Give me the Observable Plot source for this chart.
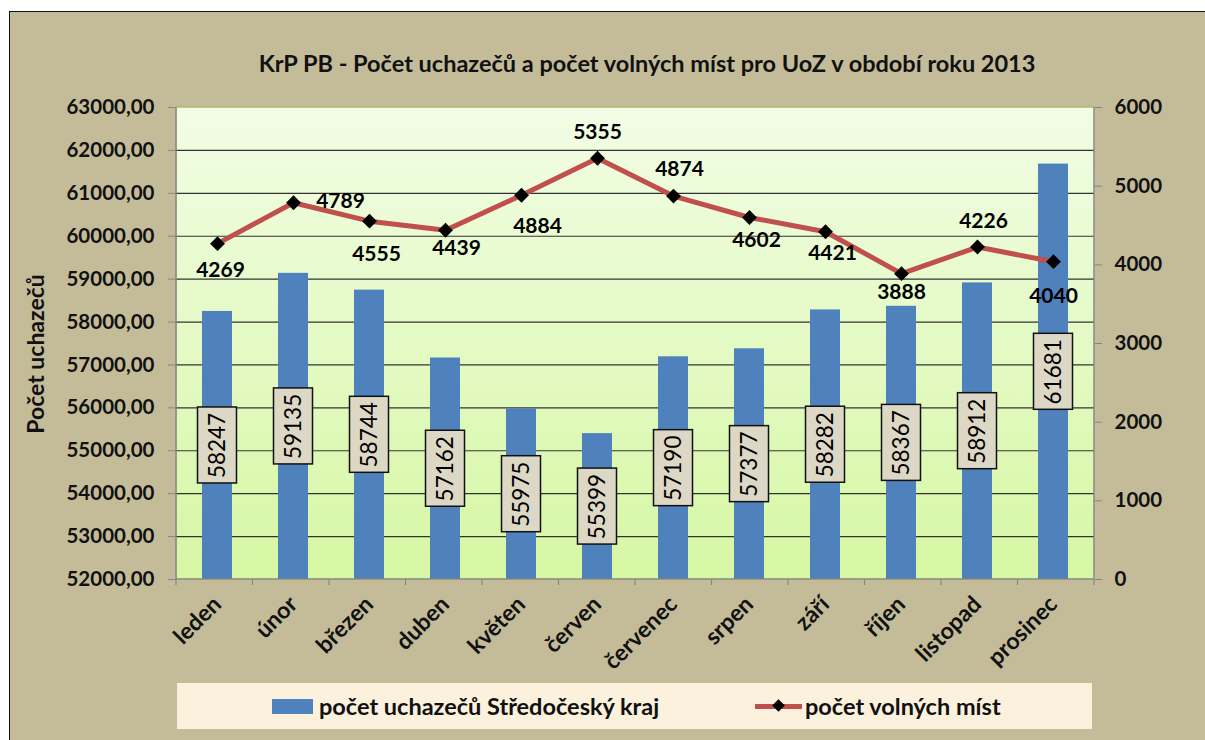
<!DOCTYPE html>
<html><head><meta charset="utf-8">
<script src="https://cdn.jsdelivr.net/npm/d3@7"></script>
<script src="https://cdn.jsdelivr.net/npm/@observablehq/plot@0.6"></script>
<style>
html,body{margin:0;padding:0;background:#fff;}
body{width:1205px;height:740px;overflow:hidden;position:relative;font-family:Lato,"Open Sans",sans-serif;}
#frame{position:absolute;left:9px;top:11px;width:1205px;height:740px;background:#c4bc99;border-left:1px solid #111;border-top:1px solid #111;}
#title{position:absolute;left:637px;top:51px;transform:translate(-50%,-50%);white-space:nowrap;font:bold 23.5px Lato,sans-serif;color:#111;}
#ylab{position:absolute;left:25px;top:342px;transform:translate(-50%,-50%) rotate(-90deg);white-space:nowrap;font:bold 23px Lato,sans-serif;color:#111;}
#chart{position:absolute;left:0;top:80px;}
#legend{position:absolute;left:167px;top:671px;width:915px;height:46px;background:#fcf1dd;}
#legend .sw1{position:absolute;left:95px;top:16px;width:41px;height:15px;background:#4f81bd;}
#legend .t{position:absolute;top:23px;transform:translateY(-50%);font:bold 23.5px Lato,sans-serif;color:#111;white-space:nowrap;}
#legend .sw2{position:absolute;left:578px;top:20.5px;width:47px;height:5px;background:#c0504d;}
#legend .dia{position:absolute;left:597px;top:17.5px;width:9px;height:9px;background:#000;transform:rotate(45deg);}
</style></head>
<body>
<div id="frame">
  <div id="title">KrP PB - Počet uchazečů a počet volných míst pro UoZ v období roku 2013</div>
  <div id="ylab">Počet uchazečů</div>
  <div id="chart"></div>
  <div id="legend">
    <div class="sw1"></div><div class="t" style="left:142px">počet uchazečů Středočeský kraj</div>
    <div class="sw2"></div><div class="dia"></div><div class="t" style="left:628px">počet volných míst</div>
  </div>
</div>
<script>
const months = ["leden","únor","březen","duben","květen","červen","červenec","srpen","září","říjen","listopad","prosinec"];
const applicants = [58247,59135,58744,57162,55975,55399,57190,57377,58282,58367,58912,61681];
const vacancies = [4269,4789,4555,4439,4884,5355,4874,4602,4421,3888,4226,4040];
const leftTicks = [52000,53000,54000,55000,56000,57000,58000,59000,60000,61000,62000,63000];
const rightTicks = [0,1000,2000,3000,4000,5000,6000];
// label placement (pixel offsets of vacancy labels from their points)
const vacLabelDx = [3,47,7,11,16,0,6,7,7,0,6,0];
const vacLabelDy = [27,-1,33,18,31,-26,-27,23,22,19,-26,35];

const Y0 = leftTicks[0], Y1 = leftTicks[leftTicks.length-1], R1 = rightTicks[rightTicks.length-1];
const toLeft = v => Y0 + v * (Y1 - Y0) / R1;
const rows = months.map((m,i) => ({month:m, applicants:applicants[i], vacancies:vacancies[i],
  vy: toLeft(vacancies[i]), mid:(applicants[i]+Y0)/2, dx:vacLabelDx[i], dy:vacLabelDy[i]}));

const defs = () => {
  const d = d3.create("svg:defs");
  const lg = d.append("linearGradient").attr("id","plotbg").attr("x1",0).attr("y1",0).attr("x2",0).attr("y2",1);
  lg.append("stop").attr("offset","0%").attr("stop-color","#f2fde6");
  lg.append("stop").attr("offset","100%").attr("stop-color","#d6f7a3");
  return d.node();
};

const axesLines = (index, scales, values, dims) => {
  const {width, height, marginLeft:ml, marginRight:mr, marginTop:mt, marginBottom:mb} = dims;
  const x0 = ml, x1 = width - mr, y0 = mt, y1 = height - mb;
  const g = d3.create("svg:g");
  g.append("line").attr("x1",x0).attr("x2",x1).attr("y1",y0).attr("y2",y0).attr("stroke","#9bbb59").attr("stroke-width",1.2);
  g.append("line").attr("x1",x0).attr("x2",x0).attr("y1",y0).attr("y2",y1).attr("stroke","#868686").attr("stroke-width",1.5);
  g.append("line").attr("x1",x1).attr("x2",x1).attr("y1",y0).attr("y2",y1).attr("stroke","#868686").attr("stroke-width",1.5);
  g.append("line").attr("x1",x0).attr("x2",x1).attr("y1",y1).attr("y2",y1).attr("stroke","#868686").attr("stroke-width",1.5);
  const n = months.length;
  for (let i = 0; i <= n; i++) {
    const x = x0 + i * (x1 - x0) / n;
    g.append("line").attr("x1",x).attr("x2",x).attr("y1",y1).attr("y2",y1+6).attr("stroke","#868686").attr("stroke-width",1.2);
  }
  return g.node();
};

const vacLabels = rows.map(r => Plot.text([r], {x:"month", y:"vy", text:d=>String(d.vacancies),
  dx:r.dx, dy:r.dy, fontSize:21, fontWeight:"bold", fill:"#000"}));

const chart = Plot.plot({
  width: 1195, height: 600,
  marginLeft: 166, marginRight: 111, marginTop: 15, marginBottom: 113,
  style: {fontFamily:"Lato, sans-serif", fontSize:"20px", fontWeight:"bold", color:"#111", background:"transparent", overflow:"visible"},
  x: {domain: months, paddingInner: 0.61, paddingOuter: 0.305, label: null},
  y: {domain: [Y0, Y1], label: null},
  marks: [
    defs,
    Plot.frame({fill:"url(#plotbg)", stroke:"none"}),
    Plot.ruleY(leftTicks.slice(1,-1), {stroke:"#333", strokeWidth:1.2}),
    Plot.barY(rows, {x:"month", y1:Y0, y2:"applicants", fill:"#4f81bd"}),
    axesLines,
    Plot.line(rows, {x:"month", y:"vy", stroke:"#c0504d", strokeWidth:5}),
    Plot.dot(rows, {x:"month", y:"vy", symbol:"diamond2", r:6.7, fill:"#000", stroke:"none"}),
    Plot.text(rows, {x:"month", y:"mid", text:d=>String(d.applicants), rotate:-90, fontSize:22.5, fontWeight:"normal", fill:"#000",
      render(index, scales, values, dimensions, context, next) {
        const g = next(index, scales, values, dimensions, context);
        const bw = scales.x && scales.x.bandwidth ? scales.x.bandwidth()/2 : 0;
        const wrap = d3.create("svg:g");
        for (const i of index) {
          const cx = values.x[i] + bw, cy = values.y[i];
          wrap.append("rect").attr("x",cx-19.5).attr("y",cy-38).attr("width",39).attr("height",76)
            .attr("fill","#ddd8c5").attr("stroke","#111").attr("stroke-width",1.5);
        }
        wrap.node().append(g);
        return wrap.node();
      }}),
    ...vacLabels,
    Plot.axisY({anchor:"left", ticks:leftTicks, tickFormat:d=>d.toFixed(2).replace(".", ","), tickSize:8, tickPadding:14,
      stroke:"#868686", fill:"#111", fontSize:20.5, fontWeight:"bold", label:null}),
    Plot.axisY({anchor:"right", ticks:rightTicks.map(toLeft), tickFormat:d=>String(Math.round((d-Y0)*R1/(Y1-Y0))), tickSize:7, tickPadding:13,
      stroke:"#868686", fill:"#111", fontSize:20.5, fontWeight:"bold", label:null}),
    Plot.axisX({anchor:"bottom", tickRotate:-45, tickSize:0, tickPadding:21, fill:"#111", fontSize:23, fontWeight:"bold", label:null})
  ]
});
document.getElementById("chart").append(chart);
</script>
</body></html>
